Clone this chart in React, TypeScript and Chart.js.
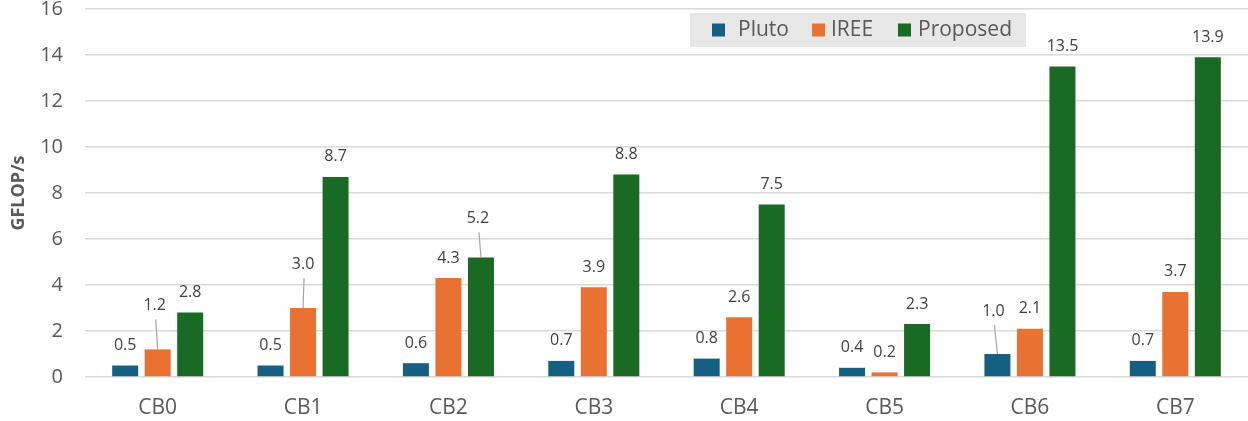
import React, { useEffect, useRef } from "react";
import { Chart, registerables } from "chart.js";

Chart.register(...registerables);

const categories = ["CB0", "CB1", "CB2", "CB3", "CB4", "CB5", "CB6", "CB7"];
const seriesNames = ["Pluto", "IREE", "Proposed"];
const plutoValues = [0.5, 0.5, 0.6, 0.7, 0.8, 0.4, 1.0, 0.7];
const ireeValues = [1.2, 3.0, 4.3, 3.9, 2.6, 0.2, 2.1, 3.7];
const proposedValues = [2.8, 8.7, 5.2, 8.8, 7.5, 2.3, 13.5, 13.9];
const yMin = 0;
const yMax = 16;
const yStep = 2;

const COLORS = ["#156082", "#E97132", "#196B24"];
const TEXT = "#595959";
const FONT = "'Open Sans', 'Noto Sans', sans-serif";

// label nudges (dx, dy) in px for labels drawn with leader lines: key = dataset-index
const labelNudges: Record<string, [number, number]> = {
  "1-0": [-3, -24],
  "1-1": [0, -24],
  "2-2": [-3, -19],
  "0-6": [-4, -23],
};

// legend item positions (square x, text x)
const legendItemX: [number, number][] = [
  [712, 738],
  [812, 831],
  [898, 918],
];

const dataLabelPlugin = {
  id: "dataLabels",
  afterDatasetsDraw(chart: any) {
    const ctx = chart.ctx;
    ctx.save();
    ctx.font = `16px ${FONT}`;
    ctx.fillStyle = "#404040";
    ctx.textAlign = "center";
    ctx.textBaseline = "middle";
    chart.data.datasets.forEach((ds: any, i: number) => {
      const meta = chart.getDatasetMeta(i);
      meta.data.forEach((el: any, j: number) => {
        const v = ds.data[j] as number;
        const nudge = labelNudges[`${i}-${j}`];
        const dx = nudge ? nudge[0] : 0;
        const dy = nudge ? nudge[1] : 0;
        const lx = el.x + dx;
        const ly = el.y - 20 + dy;
        if (nudge) {
          ctx.save();
          ctx.strokeStyle = "#A6A6A6";
          ctx.lineWidth = 1.2;
          ctx.beginPath();
          ctx.moveTo(lx + 1, ly + 14);
          ctx.lineTo(el.x, el.y);
          ctx.stroke();
          ctx.restore();
        }
        ctx.fillText(v.toFixed(1), lx, ly);
      });
    });
    ctx.restore();
  },
};

const legendPlugin = {
  id: "boxLegend",
  afterDraw(chart: any) {
    const ctx = chart.ctx;
    const boxLeft = 690;
    const boxTop = 13;
    const boxRight = 1026;
    const boxBottom = 47;
    ctx.save();
    ctx.fillStyle = "#E7E7E7";
    ctx.fillRect(boxLeft, boxTop, boxRight - boxLeft, boxBottom - boxTop);
    ctx.font = `21px ${FONT}`;
    ctx.textBaseline = "middle";
    ctx.textAlign = "left";
    const cy = (boxTop + boxBottom) / 2;
    chart.data.datasets.forEach((ds: any, i: number) => {
      const [sx, tx] = legendItemX[i];
      ctx.fillStyle = ds.backgroundColor;
      ctx.fillRect(sx, cy - 6.5, 13, 13);
      ctx.fillStyle = TEXT;
      ctx.fillText(ds.label, tx, cy);
    });
    ctx.restore();
  },
};

export default function App() {
  const canvasRef = useRef<HTMLCanvasElement | null>(null);

  useEffect(() => {
    document.body.style.margin = "0";
    const canvas = canvasRef.current;
    if (!canvas) return;
    const allValues = [plutoValues, ireeValues, proposedValues];
    const chart = new Chart(canvas, {
      type: "bar",
      data: {
        labels: categories,
        datasets: seriesNames.map((name, i) => ({
          label: name,
          data: allValues[i],
          backgroundColor: COLORS[i],
          borderWidth: 0,
          categoryPercentage: 0.671,
          barPercentage: 0.8,
        })),
      },
      options: {
        animation: false,
        responsive: false,
        devicePixelRatio: 1,
        layout: { padding: { top: 0, right: 0, bottom: 0, left: 0 } },
        plugins: {
          legend: { display: false },
          tooltip: { enabled: false },
        },
        scales: {
          x: {
            grid: { display: false, drawTicks: false },
            border: { display: false },
            ticks: {
              color: TEXT,
              font: { family: FONT, size: 21 },
              padding: 18,
            },
            afterFit(scale: any) {
              scale.height = 44;
            },
          },
          y: {
            min: yMin,
            max: yMax,
            ticks: {
              stepSize: yStep,
              color: TEXT,
              font: { family: FONT, size: 20, lineHeight: 18 / 20 },
              padding: 0,
            },
            grid: {
              color: "#D9D9D9",
              lineWidth: 1.5,
              drawTicks: true,
              tickLength: 22,
              tickColor: "rgba(0,0,0,0)",
            },
            border: { display: false },
            title: {
              display: true,
              text: "GFLOP/s",
              color: TEXT,
              font: { family: FONT, size: 18, weight: "bold" },
              padding: { top: 8, bottom: 4 },
            },
            afterFit(scale: any) {
              scale.width = 85;
            },
          },
        },
      },
      plugins: [dataLabelPlugin, legendPlugin],
    });
    return () => chart.destroy();
  }, []);

  return (
    <div style={{ width: 1248, height: 421 }}>
      <canvas ref={canvasRef} width={1248} height={421} style={{ display: "block" }} />
    </div>
  );
}
